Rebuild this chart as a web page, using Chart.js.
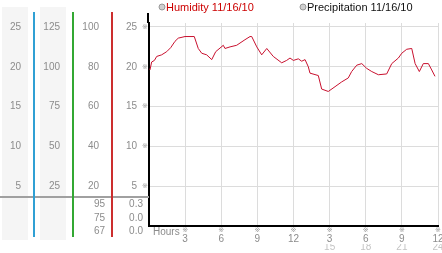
<!DOCTYPE html>
<html>
<head>
<meta charset="utf-8">
<script src="https://cdn.jsdelivr.net/npm/chart.js@4/dist/chart.umd.min.js"></script>
<style>
  html, body { margin: 0; padding: 0; background: #fff; }
  #wrap { width: 442px; height: 253px; position: relative; }
</style>
</head>
<body>
<div id="wrap"><canvas id="c" width="442" height="253"></canvas></div>
<script>
// ---- data ----
const hours = [0.08,0.22,0.45,0.64,1.05,1.47,1.80,2.16,2.43,2.99,3.76,4.09,4.38,4.79,5.21,5.54,6.17,6.31,6.73,7.28,7.97,8.39,8.53,8.95,9.36,9.78,10.32,11.02,11.43,11.71,11.99,12.40,12.68,12.96,13.23,13.37,14.06,14.34,14.89,15.45,16.00,16.55,16.83,17.25,17.67,18.08,18.50,19.05,19.74,20.16,20.71,20.99,21.40,21.82,22.10,22.45,22.78,23.20,23.48,23.75];
const humidity = [19.6,20.6,20.8,21.3,21.5,21.9,22.4,23.2,23.6,23.8,23.8,22.3,21.7,21.5,20.9,21.9,22.7,22.3,22.5,22.7,23.4,23.8,23.8,22.5,21.5,22.3,21.3,20.5,20.8,21.1,20.8,21.0,20.7,20.9,20.0,19.2,18.9,17.2,16.9,17.5,18.1,18.6,19.4,20.2,20.4,19.8,19.4,19.0,19.1,20.4,21.1,21.7,22.2,22.3,20.4,19.4,20.4,20.4,19.6,18.8];
const precipitation = [];

const seriesLabels = ['Humidity 11/16/10', 'Precipitation 11/16/10'];

const mainTicks = [5,10,15,20,25];
const col1Ticks = [5,10,15,20,25];
const col2Ticks = [25,50,75,100,125];
const col3Ticks = [20,40,60,80,100];
const hourTicks = [3,6,9,12,15,18,21,24];
const hourLabels = ['3','6','9','12','3','6','9','12'];
const hourLabels24 = ['','','','','15','18','21','24'];
const col3Extra = ['95','75','67'];
const col4Extra = ['0.3','0.0','0.0'];
const xAxisName = 'Hours';

// ---- styling ----
const FONT = 'Liberation Sans';
const TICK_COLOR = '#8c8c8c';
const yMax = 25.5;
const C1 = '#30a0d4', C2 = '#33a833', C3 = '#cc2e2e';

function setTicks(list) {
  return s => { s.ticks = list.map(v => ({ value: v })); };
}
function fixW(w) {
  return s => { s.width = w; s.paddingTop = 0; s.paddingBottom = 0; };
}
function fixH(h) {
  return s => { s.height = h; s.paddingLeft = 0; s.paddingRight = 0; };
}

function sideAxis(weight, max, list, width) {
  return {
    type: 'linear', position: 'left', weight: weight, min: 0, max: max,
    afterBuildTicks: setTicks(list),
    afterFit: fixW(width),
    grid: { display: false, drawTicks: false },
    border: { display: false },
    ticks: { padding: 12, color: TICK_COLOR, font: { family: FONT, size: 10 } }
  };
}

const decor = {
  id: 'decor',
  beforeDraw(chart) {
    const ctx = chart.ctx;
    ctx.save();
    ctx.fillStyle = '#f5f5f5';
    ctx.fillRect(2, 7, 26, 233);
    ctx.fillRect(40, 7, 26, 233);
    ctx.restore();
  },
  afterDraw(chart) {
    const ctx = chart.ctx;
    const area = chart.chartArea;
    const sY = chart.scales.y;
    const sX = chart.scales.x;
    ctx.save();
    // grey separator line
    ctx.fillStyle = '#a0a0a0';
    ctx.fillRect(0, 196, area.left, 2);
    // coloured column axis lines
    [['c1', C1], ['c2', C2], ['c3', C3]].forEach(([id, col]) => {
      const s = chart.scales[id];
      ctx.fillStyle = col;
      ctx.fillRect(Math.floor(s.right), 12, 2, 225);
    });
    // black main axis extension above plot area
    ctx.fillStyle = '#000';
    ctx.fillRect(Math.round(area.left) - 2, 13, 2, area.top - 13);
    // extra rows under the separator
    ctx.font = '10px ' + FONT;
    ctx.fillStyle = TICK_COLOR;
    ctx.textAlign = 'right';
    ctx.textBaseline = 'middle';
    const rowY = [204.5, 218, 231.5];
    col3Extra.forEach((t, i) => ctx.fillText(t, chart.scales.c3.right - 6, rowY[i]));
    col4Extra.forEach((t, i) => ctx.fillText(t, sY.right - 6, rowY[i]));
    // small tick marks
    ctx.font = '7px "DejaVu Sans"';
    ctx.fillStyle = '#999';
    ctx.textAlign = 'center';
    mainTicks.forEach(v => ctx.fillText('\u203B', area.left - 4, sY.getPixelForValue(v)));
    hourTicks.forEach(v => ctx.fillText('\u203B', sX.getPixelForValue(v), 230));
    // axis name
    ctx.font = '10px ' + FONT;
    ctx.fillStyle = TICK_COLOR;
    ctx.textAlign = 'left';
    ctx.fillText(xAxisName, 153, 232);
    // legend
    const legendX = [162, 303];
    const legendColor = ['#cc0000', '#111'];
    chart.data.datasets.forEach((ds, i) => {
      ctx.beginPath();
      ctx.arc(legendX[i], 7, 3, 0, Math.PI * 2);
      ctx.fillStyle = '#d0d0d0'; ctx.fill();
      ctx.strokeStyle = '#999'; ctx.lineWidth = 1; ctx.stroke();
      ctx.font = '11px ' + FONT;
      ctx.fillStyle = legendColor[i];
      ctx.textAlign = 'left';
      ctx.textBaseline = 'middle';
      ctx.fillText(ds.label, legendX[i] + 4, 7.5);
    });
    ctx.restore();
  }
};

new Chart(document.getElementById('c'), {
  type: 'line',
  data: {
    datasets: [
      {
        label: seriesLabels[0],
        data: hours.map((h, i) => ({ x: h, y: humidity[i] })),
        borderColor: '#c8102e', borderWidth: 1, pointRadius: 0, tension: 0, fill: false
      },
      {
        label: seriesLabels[1],
        data: precipitation,
        borderColor: '#333', borderWidth: 1, pointRadius: 0
      }
    ]
  },
  options: {
    responsive: false, animation: false, devicePixelRatio: 1,
    layout: { padding: { top: 23, right: 4, left: 0, bottom: 0 } },
    plugins: { legend: { display: false }, tooltip: { enabled: false } },
    scales: {
      x: {
        type: 'linear', position: 'bottom', weight: 0, min: 0, max: 24,
        afterBuildTicks: setTicks(hourTicks),
        afterFit: fixH(18),
        ticks: { autoSkip: false, maxRotation: 0, padding: 7, color: TICK_COLOR,
                 font: { family: FONT, size: 10 }, callback: (v, i) => hourLabels[i] },
        grid: { color: '#dcdcdc', drawTicks: false },
        border: { color: '#000', width: 2 }
      },
      x2: {
        type: 'linear', position: 'bottom', weight: 1, min: 0, max: 24,
        afterBuildTicks: setTicks(hourTicks),
        afterFit: fixH(9),
        ticks: { autoSkip: false, maxRotation: 0, padding: -3, color: '#c4c4c4',
                 font: { family: FONT, size: 10 }, callback: (v, i) => hourLabels24[i] },
        grid: { display: false, drawTicks: false },
        border: { display: false }
      },
      y: {
        type: 'linear', position: 'left', weight: 0, min: 0, max: yMax,
        afterBuildTicks: setTicks(mainTicks),
        afterFit: fixW(38),
        grid: { color: '#dcdcdc', drawTicks: false },
        border: { color: '#000', width: 2 },
        ticks: { padding: 12, color: TICK_COLOR, font: { family: FONT, size: 10 } }
      },
      c3: sideAxis(1, yMax * 4, col3Ticks, 39),
      c2: sideAxis(2, yMax * 5, col2Ticks, 39),
      c1: sideAxis(3, yMax, col1Ticks, 33)
    }
  },
  plugins: [decor]
});
</script>
</body>
</html>
